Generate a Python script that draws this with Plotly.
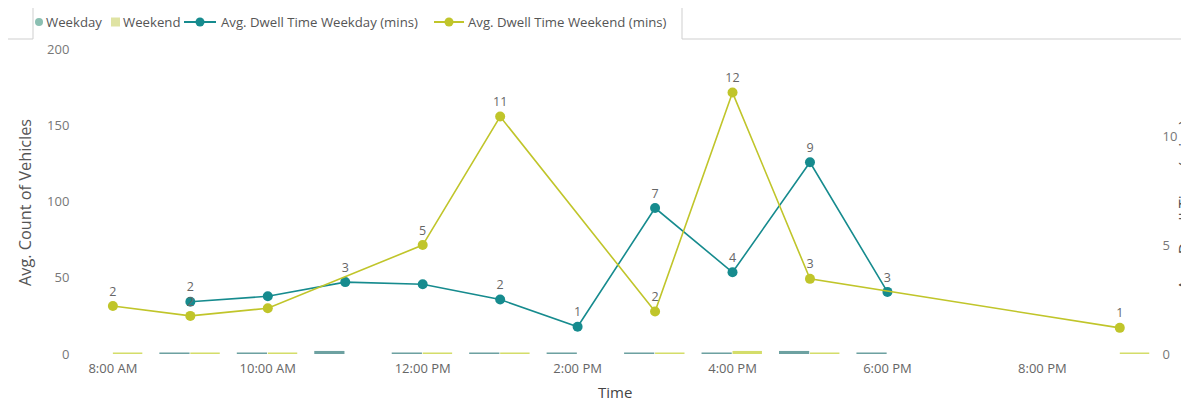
import plotly.graph_objects as go

# ---- data ----
hours_weekday = [9, 10, 11, 12, 13, 14, 15, 16, 17, 18]
count_weekday = [1, 1, 2, 1, 1, 1, 1, 1, 2, 1]
dwell_weekday = [2.4, 2.65, 3.3, 3.2, 2.5, 1.25, 6.7, 3.75, 8.8, 2.85]
label_weekday = ["2", "", "3", "", "2", "1", "7", "4", "9", "3"]

hours_weekend = [8, 9, 10, 12, 13, 15, 16, 17, 21]
count_weekend = [1, 1, 1, 1, 1, 1, 2, 1, 1]
dwell_weekend = [2.2, 1.75, 2.1, 5.0, 10.9, 1.95, 12.0, 3.45, 1.2]
label_weekend = ["2", "2", "", "5", "11", "2", "12", "3", "1"]

tick_hours = [8, 10, 12, 14, 16, 18, 20]
tick_labels = ["8:00 AM", "10:00 AM", "12:00 PM", "2:00 PM", "4:00 PM", "6:00 PM", "8:00 PM"]

legend_names = ["Weekday", "Weekend",
                "Avg. Dwell Time Weekday (mins)", "Avg. Dwell Time Weekend (mins)"]

FONT = "Open Sans, Segoe UI, sans-serif"
C_WD_LINE = "#168b8e"
C_WE_LINE = "#c0c52a"
C_WD_BAR = "rgba(60,130,130,0.75)"
C_WE_BAR = "rgba(205,215,80,0.85)"
C_WD_LEG = "#8bbfb2"
C_WE_LEG = "#dfe3a3"

fig = go.Figure()

fig.add_trace(go.Bar(x=hours_weekday, y=count_weekday, name=legend_names[0],
                     marker=dict(color=C_WD_BAR, line=dict(width=0)),
                     offset=-0.4, width=0.39))
fig.add_trace(go.Bar(x=hours_weekend, y=count_weekend, name=legend_names[1],
                     marker=dict(color=C_WE_BAR, line=dict(width=0)),
                     offset=0.0, width=0.38))

fig.add_trace(go.Scatter(x=hours_weekday, y=dwell_weekday, yaxis="y2",
                         name=legend_names[2],
                         mode="lines+markers+text", text=label_weekday,
                         textposition="top center",
                         textfont=dict(size=12.5, color="#666666", family=FONT),
                         line=dict(color=C_WD_LINE, width=1.6),
                         marker=dict(color=C_WD_LINE, size=10)))
fig.add_trace(go.Scatter(x=hours_weekend, y=dwell_weekend, yaxis="y2",
                         name=legend_names[3],
                         mode="lines+markers+text", text=label_weekend,
                         textposition="top center",
                         textfont=dict(size=12.5, color="#666666", family=FONT),
                         line=dict(color=C_WE_LINE, width=1.6),
                         marker=dict(color=C_WE_LINE, size=10)))

# page body has an 8px margin; figure is sized so that it ends at the window edge
OFF = 8
W, H = 1189 - OFF, 401 - OFF
L, R, T, B = 77, 39, 41, 47
pw = W - L - R
ph = H - T - B


def px(x):
    """page x (pixels) -> paper x"""
    return (x - OFF - L) / pw


def py(y):
    """page y (pixels) -> paper y"""
    return (H - B - (y - OFF)) / ph


LEG_Y = 22
LEG_FONT = dict(size=13.2, color="#555555", family=FONT)
shapes = []
annotations = []

# custom legend (compact like the reference)
shapes.append(dict(type="circle", xref="paper", yref="paper",
                   x0=px(35), x1=px(43), y0=py(LEG_Y + 4), y1=py(LEG_Y - 4),
                   fillcolor=C_WD_LEG, line=dict(width=0)))
annotations.append(dict(text=legend_names[0], x=px(44), y=py(LEG_Y)))
shapes.append(dict(type="rect", xref="paper", yref="paper",
                   x0=px(111), x1=px(120), y0=py(LEG_Y + 4.5), y1=py(LEG_Y - 4.5),
                   fillcolor=C_WE_LEG, line=dict(width=0)))
annotations.append(dict(text=legend_names[1], x=px(121), y=py(LEG_Y)))
for (x0, x1, col, tx, name) in [(184, 216, C_WD_LINE, 219, legend_names[2]),
                                (434, 464, C_WE_LINE, 466, legend_names[3])]:
    shapes.append(dict(type="line", xref="paper", yref="paper",
                       x0=px(x0), x1=px(x1), y0=py(LEG_Y), y1=py(LEG_Y),
                       line=dict(color=col, width=2)))
    cx = (x0 + x1) / 2
    shapes.append(dict(type="circle", xref="paper", yref="paper",
                       x0=px(cx - 4.5), x1=px(cx + 4.5), y0=py(LEG_Y + 4.5), y1=py(LEG_Y - 4.5),
                       fillcolor=col, line=dict(width=0)))
    annotations.append(dict(text=name, x=px(tx), y=py(LEG_Y)))
for a in annotations:
    a.update(xref="paper", yref="paper", xanchor="left", yanchor="middle",
             showarrow=False, font=LEG_FONT)

# frame lines around the legend strip
for (x0, y0, x1, y1) in [(8, 39, 33, 39), (33, 8, 33, 39), (682, 8, 682, 39), (682, 39, 1189, 39)]:
    shapes.append(dict(type="line", xref="paper", yref="paper",
                       x0=px(x0), x1=px(x1), y0=py(y0), y1=py(y1),
                       line=dict(color="#cfcfcf", width=1)))

# axis titles
annotations += [
    dict(text="Time", xref="paper", yref="paper", x=px(615), y=py(392),
         xanchor="center", yanchor="middle", showarrow=False,
         font=dict(size=15, color="#444444", family=FONT)),
    dict(text="Avg. Count of Vehicles", xref="paper", yref="paper",
         x=px(25), y=py(203), xanchor="center", yanchor="middle", textangle=-90,
         showarrow=False, font=dict(size=16.3, color="#555555", family=FONT)),
    dict(text="Avg. Dwell Time (mins)", xref="paper", yref="paper",
         x=px(1185), y=py(205), xanchor="center", yanchor="middle", textangle=-90,
         showarrow=False, font=dict(size=16.3, color="#555555", family=FONT)),
]

fig.update_layout(
    width=W, height=H,
    margin=dict(l=L, r=R, t=T, b=B, autoexpand=False),
    paper_bgcolor="white", plot_bgcolor="white",
    font=dict(family=FONT, color="#666666", size=12),
    barmode="overlay",
    showlegend=False,
    xaxis=dict(range=[7.64, 21.39], tickvals=tick_hours, ticktext=tick_labels,
               showgrid=False, zeroline=False, showline=False,
               ticks="outside", ticklen=2, tickcolor="rgba(0,0,0,0)",
               tickfont=dict(size=13, color="#666666"), automargin=False),
    yaxis=dict(range=[0, 200], tickvals=[0, 50, 100, 150, 200],
               showgrid=False, zeroline=False, showline=False,
               ticks="outside", ticklen=12, tickcolor="rgba(0,0,0,0)",
               tickfont=dict(size=13, color="#777777"), automargin=False),
    yaxis2=dict(range=[0, 14], tickvals=[0, 5, 10], overlaying="y", side="right",
                showgrid=False, zeroline=False, showline=False,
                ticks="outside", ticklen=9, tickcolor="rgba(0,0,0,0)",
                tickfont=dict(size=13, color="#777777"), automargin=False),
    annotations=annotations,
    shapes=shapes,
)

fig.write_html("out.html")
